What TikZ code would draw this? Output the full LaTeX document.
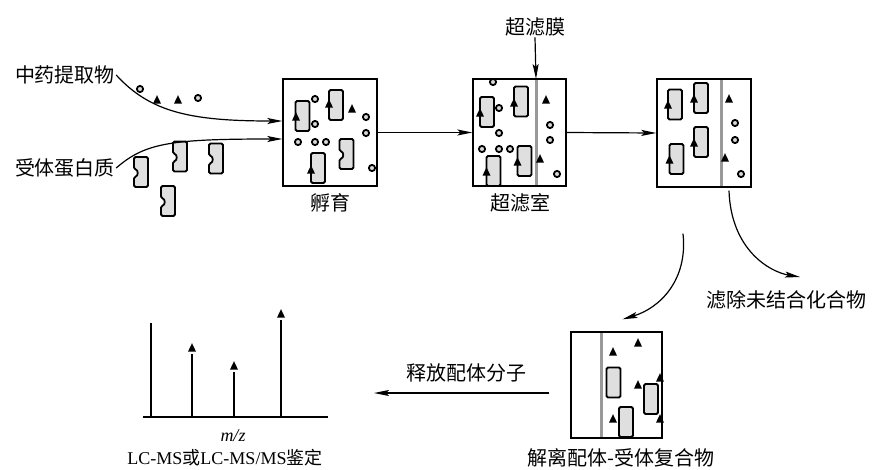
\documentclass[tikz,border=0pt]{standalone}
\usepackage{fontspec}
\setmainfont{Liberation Serif}
\newfontfamily\cjk{Noto Sans CJK SC}
\usetikzlibrary{arrows.meta}
\begin{document}
\begin{tikzpicture}[x=1pt,y=-1pt,
  lbl/.style={font=\cjk\fontsize{20}{22}\selectfont, inner sep=1pt},
  box/.style={draw, line width=1.4pt, fill=white, inner sep=0pt},
  arr/.style={line width=1.2pt, -{Stealth[length=15pt,width=6pt,inset=3pt]}},
  membrane/.style={draw=gray!80, line width=3pt},
  recstyle/.style={draw=black, line width=1.8pt, fill=gray!25, rounded corners=1.5pt},
  peak/.style={line width=1.8pt},
  lig/.pic={\fill (0,-4.8) -- (4,3.6) -- (-4,3.6) -- cycle;},
  mol/.pic={\draw[line width=1.8pt, fill=gray!30] (0,0) circle (3.1);},
  rec/.pic={\draw[recstyle] (-7,-15) rectangle (7,15);},
  recn/.pic={\draw[recstyle] (-7,-15) -- (7,-15) -- (7,15) -- (-7,15) -- (-7,5)
      .. controls (-2.5,4) and (-2.5,-2) .. (-7,-3) -- cycle;},
]
\useasboundingbox (0,0) rectangle (873,469);

% ---- starting materials ----
\node[lbl] (tcm) at (65,75) {中药提取物};
\node[lbl] (prot) at (65,168) {受体蛋白质};
\pic at (140,89) {mol};
\pic at (157,100) {lig};
\pic at (178,100) {lig};
\pic at (198,98) {mol};
\pic at (141,172) {recn};
\pic at (180,156.5) {recn};
\pic at (216,158.5) {recn};
\pic at (168,201) {recn};

% ---- incubation ----
\node[box, minimum width=94pt, minimum height=107pt] (b1) at (330,132.5) {};
\node[lbl, anchor=center] (t1) at (330,203) {孵育};
\pic at (302.5,116) {rec}; \pic at (296,117) {lig};
\pic at (336,105) {rec};   \pic at (329,104) {lig};
\pic at (346.5,154) {recn};
\pic at (318,168) {rec};   \pic at (311,170) {lig};
\foreach \p in {(315,99),(315,124),(298,142),(315,142),(326,142),(366,117),(366,133),(372,168)}
  \pic at \p {mol};
\pic at (352,109) {lig};

% ---- ultrafiltration chamber ----
\node[box, minimum width=93pt, minimum height=107pt] (b2) at (519.5,132.5) {};
\node[lbl] (t2) at (520,203) {超滤室};
\node[lbl] (mem) at (535,27) {超滤膜};
\draw[membrane] (536,79.8) -- (536,185.2);
\pic at (493,82) {mol};
\pic at (487,112) {rec};   \pic at (480,113) {lig};
\pic at (521,101.5) {rec}; \pic at (514,103) {lig};
\pic at (493.5,171) {rec}; \pic at (486.5,172) {lig};
\pic at (524.5,161) {rec}; \pic at (517.5,162) {lig};
\foreach \p in {(499,108),(499,133),(482,149),(499,149),(510,149),(550,125),(550,140),(557,174)}
  \pic at \p {mol};
\pic at (546,100) {lig};
\pic at (540,159) {lig};

% ---- after filtration ----
\node[box, minimum width=94pt, minimum height=108pt] (b3) at (704,133) {};
\draw[membrane] (721,79.8) -- (721,186.2);
\pic at (675,104.5) {rec}; \pic at (668,105) {lig};
\pic at (701,98) {rec};    \pic at (694,99) {lig};
\pic at (676.5,159) {rec}; \pic at (669.5,160) {lig};
\pic at (701,142) {rec};   \pic at (694,143) {lig};
\pic at (729,99) {lig};
\pic at (725,158) {lig};
\foreach \p in {(735,123),(735,140),(741,174)}
  \pic at \p {mol};
\node[lbl] (filt) at (786,300) {滤除未结合化合物};

% ---- dissociation ----
\node[box, minimum width=91pt, minimum height=106pt] (b4) at (616.5,385) {};
\draw[membrane] (601,332.8) -- (601,437.2);
\pic at (613.5,382.5) {rec};
\pic at (651,399) {rec};
\pic at (626,422) {rec};
\foreach \p in {(613,352),(638,343),(638,385),(613,419),(660,378),(660,419)}
  \pic at \p {lig};
\node[lbl] (t4) at (621,458) {解离配体-受体复合物};
\node[lbl] (rel) at (466,373) {释放配体分子};

% ---- mass spectrum ----
\draw[peak] (143,417) -- (328,417);
\draw[peak] (151,323) -- (151,417);
\draw[peak] (192,354) -- (192,417); \pic at (192,348) {lig};
\draw[peak] (234,372) -- (234,417); \pic at (234,366) {lig};
\draw[peak] (281,320) -- (281,417); \pic at (281,314) {lig};
\node[font=\fontsize{18}{20}\selectfont\itshape, inner sep=1pt] (mz) at (233,436) {m/z};
\node[font=\fontsize{18}{20}\selectfont, inner sep=1pt] (ms) at (225,458) {LC-MS{\cjk 或}LC-MS/MS{\cjk 鉴定}};

% ---- connectors ----
\coordinate (in1) at ([yshift=11.5pt]b1.west);
\coordinate (in2) at ([yshift=-6.5pt]b1.west);
\draw[arr] (tcm.east) .. controls (150,112) and (190,121) .. (in1);
\draw[arr] (prot.east) .. controls (145,143) and (170,139) .. (in2);
\draw[arr] (b1.east) -- (b2.west);
\draw[arr] (b2.east) -- (b3.west);
\coordinate (memtop) at (536,79);
\draw[arr] (mem.south) -- (memtop);
\coordinate (s3a) at ([xshift=25pt,yshift=-3pt]b3.south);
\coordinate (e3a) at (800,277);
\draw[arr] (s3a) .. controls (731,250) and (770,272) .. (e3a);
\coordinate (s3b) at ([xshift=-21pt,yshift=-46pt]b3.south);
\coordinate (e3b) at ([xshift=6pt,yshift=12pt]b4.north);
\draw[arr] (s3b) .. controls (688,280) and (660,308) .. (e3b);
\coordinate (s4) at ([xshift=-21pt,yshift=-8pt]b4.west);
\coordinate (e4) at (374,393);
\draw[arr] (s4) -- (e4);
\end{tikzpicture}
\end{document}
